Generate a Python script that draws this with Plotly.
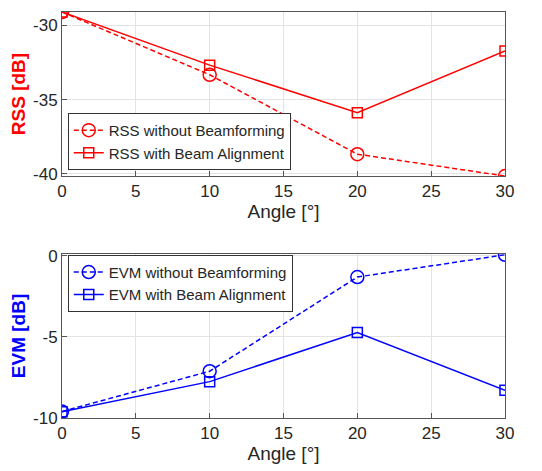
import plotly.graph_objects as go
from plotly.subplots import make_subplots

angle = [0, 10, 20, 30]
rss_without = [-29.1, -33.33, -38.68, -40.15]
rss_with = [-29.1, -32.68, -35.88, -31.72]
evm_without = [-9.6, -7.12, -1.32, 0.05]
evm_with = [-9.62, -7.76, -4.74, -8.29]
x_ticks = [0, 5, 10, 15, 20, 25, 30]
rss_ticks = [-40, -35, -30]
evm_ticks = [-10, -5, 0]

RED = "#ff0000"
BLUE = "#0000ff"
FONT = "Liberation Sans, Arial, sans-serif"

fig = make_subplots(rows=2, cols=1, vertical_spacing=0.19)

fig.add_trace(go.Scatter(x=angle, y=rss_without, mode="lines+markers", name="RSS without Beamforming",
                         line=dict(color=RED, width=1.5, dash="5px,3px"),
                         marker=dict(symbol="circle-open", size=13, color=RED, line=dict(width=1.5)),
                         legend="legend"), row=1, col=1)
fig.add_trace(go.Scatter(x=angle, y=rss_with, mode="lines+markers", name="RSS with Beam Alignment",
                         line=dict(color=RED, width=1.5),
                         marker=dict(symbol="square-open", size=10, color=RED, line=dict(width=1.5)),
                         legend="legend"), row=1, col=1)
fig.add_trace(go.Scatter(x=angle, y=evm_without, mode="lines+markers", name="EVM without Beamforming",
                         line=dict(color=BLUE, width=1.5, dash="5px,3px"),
                         marker=dict(symbol="circle-open", size=13, color=BLUE, line=dict(width=1.5)),
                         legend="legend2"), row=2, col=1)
fig.add_trace(go.Scatter(x=angle, y=evm_with, mode="lines+markers", name="EVM with Beam Alignment",
                         line=dict(color=BLUE, width=1.5),
                         marker=dict(symbol="square-open", size=10, color=BLUE, line=dict(width=1.5)),
                         legend="legend2"), row=2, col=1)

axis_common = dict(showline=True, linecolor="#555555", linewidth=1, mirror=True,
                   showgrid=True, gridcolor="#e3e3e3", gridwidth=1, zeroline=False,
                   ticks="inside", ticklen=5, tickcolor="#555555", automargin=False,
                   tickfont=dict(family=FONT, size=17, color="#262626"))

fig.update_xaxes(**axis_common, range=[0, 30], tickvals=x_ticks, ticktext=[str(v) for v in x_ticks],
                 title=dict(text="Angle [°]", font=dict(family=FONT, size=19, color="#262626"), standoff=4))
fig.update_yaxes(**axis_common)
fig.update_yaxes(range=[-40.15, -29.1], tickvals=rss_ticks, ticktext=[str(v) for v in rss_ticks],
                 title=dict(text="<b>RSS [dB]</b>", font=dict(family=FONT, size=19, color=RED), standoff=6),
                 row=1, col=1)
fig.update_yaxes(range=[-10, 0.1], tickvals=evm_ticks, ticktext=[str(v) for v in evm_ticks],
                 title=dict(text="<b>EVM [dB]</b>", font=dict(family=FONT, size=19, color=BLUE), standoff=6),
                 row=2, col=1)
fig.update_layout(
    xaxis=dict(domain=[0, 1]), yaxis=dict(domain=[0.596, 1]),
    xaxis2=dict(domain=[0, 1]), yaxis2=dict(domain=[0, 0.404]),
)

legend_common = dict(bgcolor="white", bordercolor="#333333", borderwidth=1,
                     font=dict(family=FONT, size=15, color="#262626"),
                     tracegroupgap=0, itemwidth=30)
fig.update_layout(
    width=542, height=471,
    margin=dict(l=54, r=45, t=4, b=61),
    paper_bgcolor="white", plot_bgcolor="white",
    legend=dict(**legend_common, x=0.013, y=0.611, xanchor="left", yanchor="bottom"),
    legend2=dict(**legend_common, x=0.013, y=0.402, xanchor="left", yanchor="top"),
)

fig.write_html("out.html")
